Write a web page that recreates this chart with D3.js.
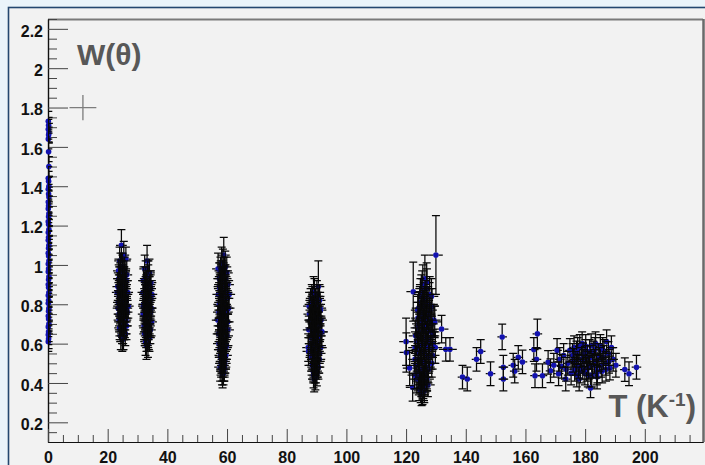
<!DOCTYPE html>
<html>
<head>
<meta charset="utf-8">
<script src="https://cdn.jsdelivr.net/npm/d3@7"></script>
<style>
  html, body { margin: 0; padding: 0; background: #eaf4fa; }
  svg { display: block; }
</style>
</head>
<body>
<svg id="chart" width="705" height="465"></svg>
<script>
// ---- axis ticks ----
const xMajorTicks = [0, 20, 40, 60, 80, 100, 120, 140, 160, 180, 200];
const xMinorTicks = [5, 10, 15, 25, 30, 35, 45, 50, 55, 65, 70, 75, 85, 90, 95, 105, 110, 115,
  125, 130, 135, 145, 150, 155, 165, 170, 175, 185, 190, 195, 205, 210, 215];
const yMajorTicks = [0.2, 0.4, 0.6, 0.8, 1.0, 1.2, 1.4, 1.6, 1.8, 2.0, 2.2];
const yMinorTicks = [0.15, 0.25, 0.3, 0.35, 0.45, 0.5, 0.55, 0.65, 0.7, 0.75, 0.85, 0.9, 0.95,
  1.05, 1.1, 1.15, 1.25, 1.3, 1.35, 1.45, 1.5, 1.55, 1.65, 1.7, 1.75, 1.85, 1.9, 1.95,
  2.05, 2.1, 2.15, 2.25];

// ---- measurements: [T, W, dW] ; horizontal error per run in runDT ----
const run0 = [[0.1,1.73,0.05],[0.2,1.71,0.04],[0.1,1.69,0.05],[0.3,1.67,0.05],[0.2,1.66,0.04],[0.1,1.64,0.05],
  [0.2,1.575,0.05],[0.3,1.50,0.05],[0.1,1.44,0.06],[0.2,1.425,0.05],[0.3,1.40,0.05],[0.1,1.385,0.06],
  [0.2,1.36,0.05],[0.3,1.345,0.05],[0.1,1.32,0.06],[0.2,1.30,0.05],[0.1,1.285,0.05],[0.3,1.26,0.06],
  [0.2,1.245,0.05],[0.1,1.22,0.05],[0.2,1.205,0.06],[0.3,1.18,0.05],[0.1,1.165,0.05],[0.2,1.14,0.06],
  [0.1,1.125,0.05],[0.3,1.10,0.05],[0.2,1.085,0.06],[0.1,1.06,0.05],[0.2,1.045,0.05],[0.3,1.02,0.06],
  [0.1,1.005,0.05],[0.2,0.98,0.05],[0.1,0.965,0.06],[0.3,0.94,0.05],[0.2,0.925,0.05],[0.1,0.90,0.06],
  [0.2,0.885,0.05],[0.3,0.86,0.05],[0.1,0.845,0.06],[0.2,0.82,0.05],[0.1,0.805,0.05],[0.3,0.78,0.06],
  [0.2,0.765,0.05],[0.1,0.74,0.05],[0.2,0.725,0.06],[0.3,0.70,0.05],[0.1,0.685,0.05],[0.2,0.66,0.05],
  [0.1,0.645,0.05],[0.2,0.625,0.05],[0.1,0.61,0.05]];

const run25 = [[24.6,1.10,0.08],[25.4,1.05,0.07],[24.0,1.02,0.07],[26.1,1.03,0.06],[25.0,0.99,0.07],
  [23.6,0.97,0.06],[26.4,0.95,0.07],[24.8,0.96,0.06],[25.6,0.93,0.06],[24.2,0.92,0.07],[26.0,0.90,0.06],
  [23.4,0.89,0.07],[25.2,0.88,0.06],[24.5,0.87,0.07],[26.7,0.86,0.06],[25.8,0.85,0.07],[23.9,0.84,0.06],
  [24.9,0.83,0.06],[26.2,0.82,0.07],[25.3,0.81,0.06],[24.1,0.80,0.07],[25.7,0.79,0.06],[23.5,0.78,0.07],
  [24.7,0.77,0.06],[26.5,0.76,0.07],[25.1,0.75,0.06],[24.3,0.74,0.07],[25.9,0.73,0.06],[23.8,0.72,0.06],
  [25.5,0.71,0.07],[24.6,0.70,0.06],[26.3,0.69,0.07],[24.0,0.68,0.06],[25.2,0.67,0.07],[24.8,0.66,0.06],
  [25.9,0.65,0.06],[24.4,0.64,0.07],[25.3,0.63,0.06],[24.9,0.62,0.06],[23.2,0.86,0.07],[26.9,0.79,0.06],
  [25.0,0.91,0.07],[24.5,0.83,0.06],[25.6,0.76,0.07],[24.2,0.95,0.06],
  [24.3,0.99,0.07],[25.7,0.97,0.07],[24.9,0.94,0.06],[23.7,0.93,0.07],[26.2,0.92,0.06],[25.1,0.90,0.07],
  [24.4,0.89,0.06],[25.8,0.88,0.07],[23.9,0.87,0.06],[26.0,0.84,0.07],[24.6,0.82,0.06],[25.4,0.80,0.07],
  [23.6,0.81,0.06],[26.4,0.78,0.07],[24.8,0.77,0.06],[25.2,0.74,0.07],[23.8,0.75,0.06],[26.1,0.72,0.07],
  [24.5,0.71,0.06],[25.6,0.69,0.07],[24.2,0.67,0.06],[25.0,0.64,0.07],[24.7,0.85,0.07],[25.3,0.89,0.06]];

const run33 = [[33.2,1.02,0.08],[32.4,0.98,0.07],[34.0,0.96,0.07],[33.6,0.94,0.06],[32.0,0.92,0.07],
  [34.5,0.91,0.06],[33.0,0.90,0.07],[32.7,0.88,0.06],[33.9,0.87,0.07],[31.8,0.86,0.06],[34.8,0.85,0.07],
  [33.3,0.84,0.06],[32.5,0.83,0.07],[34.2,0.82,0.06],[33.7,0.81,0.07],[32.1,0.80,0.06],[33.0,0.79,0.07],
  [34.6,0.78,0.06],[32.8,0.77,0.07],[33.5,0.76,0.06],[31.9,0.75,0.07],[34.1,0.74,0.06],[33.2,0.73,0.07],
  [32.4,0.72,0.06],[34.7,0.71,0.07],[33.8,0.70,0.06],[32.2,0.69,0.07],[33.1,0.68,0.06],[34.3,0.67,0.07],
  [32.6,0.66,0.06],[33.6,0.65,0.07],[32.9,0.64,0.06],[34.0,0.63,0.07],[33.3,0.62,0.06],[32.7,0.61,0.07],
  [33.5,0.60,0.07],[33.0,0.59,0.07],[32.3,0.78,0.06],[34.4,0.88,0.07],[33.9,0.73,0.06],
  [33.4,0.95,0.07],[32.6,0.93,0.06],[34.2,0.90,0.07],[33.0,0.87,0.06],[32.3,0.85,0.07],[34.5,0.83,0.06],
  [33.6,0.82,0.07],[32.0,0.79,0.06],[33.2,0.77,0.07],[34.3,0.76,0.06],[32.5,0.74,0.07],[33.7,0.72,0.06],
  [32.8,0.70,0.07],[34.0,0.69,0.06],[33.1,0.67,0.07],[32.4,0.65,0.06],[33.8,0.64,0.07],[33.0,0.62,0.06],
  [32.9,0.86,0.07],[33.5,0.80,0.06]];

const run59 = [[58.9,1.05,0.09],[58.2,1.01,0.08],[59.4,0.99,0.08],[57.8,0.97,0.07],[59.9,0.96,0.08],
  [58.5,0.95,0.07],[57.4,0.93,0.08],[59.2,0.92,0.07],[58.0,0.91,0.08],[60.3,0.90,0.07],[58.7,0.89,0.08],
  [57.6,0.88,0.07],[59.6,0.87,0.08],[58.3,0.86,0.07],[57.1,0.85,0.08],[59.0,0.84,0.07],[60.1,0.83,0.08],
  [58.4,0.82,0.07],[57.7,0.81,0.08],[59.3,0.80,0.07],[58.1,0.79,0.08],[60.5,0.78,0.07],[58.8,0.77,0.08],
  [57.3,0.76,0.07],[59.7,0.75,0.08],[58.2,0.74,0.07],[57.9,0.73,0.08],[59.1,0.72,0.07],[60.2,0.71,0.08],
  [58.6,0.70,0.07],[57.5,0.69,0.08],[59.5,0.68,0.07],[58.0,0.67,0.08],[58.9,0.66,0.07],[57.2,0.65,0.08],
  [60.0,0.64,0.07],[58.4,0.63,0.08],[59.3,0.62,0.07],[57.8,0.61,0.08],[58.7,0.60,0.07],[59.8,0.59,0.07],
  [58.1,0.58,0.07],[57.6,0.57,0.07],[59.0,0.56,0.07],[58.5,0.55,0.07],[59.6,0.54,0.07],[57.9,0.53,0.07],
  [58.8,0.52,0.07],[58.2,0.51,0.06],[59.2,0.50,0.07],[58.6,0.49,0.06],[57.7,0.48,0.07],[59.0,0.47,0.06],
  [58.3,0.46,0.07],[58.8,0.45,0.06],[58.5,0.44,0.065],[56.9,0.72,0.07],[60.7,0.85,0.07],[57.0,0.98,0.08],
  [58.6,1.00,0.08],[59.1,0.97,0.07],[57.9,0.94,0.08],[59.5,0.93,0.07],[58.3,0.90,0.08],[57.5,0.89,0.07],
  [59.8,0.86,0.08],[58.0,0.84,0.07],[59.2,0.83,0.08],[57.4,0.80,0.07],[58.7,0.78,0.08],[59.9,0.76,0.07],
  [58.1,0.75,0.08],[57.6,0.72,0.07],[59.4,0.71,0.08],[58.4,0.69,0.07],[60.3,0.67,0.08],[57.8,0.66,0.07],
  [59.0,0.64,0.08],[58.2,0.62,0.07],[57.3,0.60,0.07],[59.6,0.58,0.07],[58.6,0.56,0.07],[57.8,0.54,0.07],
  [59.3,0.52,0.07],[58.0,0.50,0.07],[59.1,0.48,0.07],[58.4,0.47,0.06]];

const run89 = [[90.6,0.89,0.13],[89.0,0.86,0.08],[90.1,0.84,0.08],[88.4,0.83,0.07],[91.0,0.82,0.08],
  [89.6,0.81,0.07],[88.0,0.80,0.08],[90.4,0.79,0.07],[89.2,0.78,0.08],[91.3,0.77,0.07],[88.7,0.76,0.08],
  [87.6,0.75,0.07],[90.0,0.74,0.08],[89.4,0.73,0.07],[91.5,0.72,0.08],[88.2,0.71,0.07],[89.8,0.70,0.08],
  [90.7,0.69,0.07],[88.9,0.68,0.08],[87.4,0.67,0.07],[90.2,0.66,0.08],[89.1,0.65,0.07],[91.1,0.64,0.08],
  [88.5,0.63,0.07],[89.7,0.62,0.08],[90.5,0.61,0.07],[88.1,0.60,0.08],[89.3,0.59,0.07],[91.4,0.58,0.07],
  [88.8,0.57,0.07],[87.3,0.56,0.07],[90.3,0.55,0.07],[89.5,0.54,0.07],[88.3,0.53,0.07],[90.9,0.52,0.07],
  [89.0,0.51,0.07],[89.9,0.50,0.06],[88.6,0.49,0.07],[90.6,0.48,0.06],[89.4,0.47,0.07],[88.9,0.46,0.06],
  [90.1,0.45,0.065],[89.6,0.43,0.065],[89.2,0.42,0.065],[87.2,0.58,0.07],[91.8,0.66,0.07],[87.5,0.79,0.07],
  [89.3,0.85,0.08],[90.5,0.83,0.07],[88.6,0.81,0.08],[89.9,0.79,0.07],[91.2,0.78,0.08],[88.3,0.77,0.07],
  [89.5,0.75,0.08],[90.8,0.73,0.07],[87.9,0.72,0.08],[89.0,0.71,0.07],[90.3,0.69,0.08],[88.5,0.67,0.07],
  [91.6,0.66,0.08],[89.7,0.64,0.07],[88.0,0.63,0.08],[90.6,0.62,0.07],[89.2,0.60,0.08],[88.7,0.58,0.07],
  [90.0,0.57,0.07],[91.0,0.55,0.07],[88.4,0.54,0.07],[89.6,0.52,0.07],[90.4,0.50,0.07],[88.9,0.48,0.07],
  [89.8,0.46,0.06],[89.0,0.44,0.065]];

const run126 = [[120.0,0.61,0.12],[120.1,0.555,0.10],[121.2,0.476,0.09],[122.2,0.378,0.07],[122.4,0.864,0.15],
  [130.0,1.05,0.20],[126.3,0.93,0.12],[125.6,0.90,0.10],[127.0,0.88,0.10],[128.5,0.84,0.09],[125.1,0.86,0.09],
  [126.6,0.83,0.09],[124.6,0.81,0.08],[127.4,0.80,0.09],[125.9,0.79,0.08],[124.2,0.78,0.08],[128.0,0.77,0.08],
  [126.1,0.76,0.08],[125.3,0.75,0.08],[127.7,0.74,0.08],[124.0,0.73,0.08],[126.8,0.72,0.08],[125.0,0.71,0.08],
  [128.3,0.70,0.08],[126.4,0.69,0.07],[123.8,0.68,0.08],[127.2,0.67,0.07],[125.5,0.66,0.08],[124.4,0.65,0.07],
  [128.8,0.64,0.08],[126.0,0.63,0.07],[127.5,0.62,0.08],[123.5,0.61,0.07],[125.8,0.60,0.08],[124.8,0.59,0.07],
  [126.9,0.58,0.08],[128.1,0.57,0.07],[125.2,0.56,0.07],[123.9,0.55,0.07],[126.5,0.54,0.07],[127.8,0.53,0.07],
  [124.5,0.52,0.07],[125.7,0.51,0.07],[126.2,0.50,0.07],[123.3,0.49,0.07],[127.3,0.48,0.07],[124.9,0.47,0.07],
  [125.4,0.46,0.07],[126.7,0.45,0.06],[124.1,0.44,0.07],[125.9,0.43,0.06],[127.0,0.42,0.06],[124.7,0.41,0.06],
  [126.3,0.40,0.06],[125.1,0.39,0.06],[125.8,0.38,0.06],[124.4,0.37,0.06],[126.1,0.36,0.06],[125.5,0.35,0.06],
  [125.2,0.34,0.055],[123.0,0.58,0.08],[129.0,0.60,0.07],[128.6,0.50,0.07],[122.8,0.44,0.07],[129.3,0.72,0.08],
  [126.9,0.91,0.10],[125.4,0.88,0.09],[127.9,0.85,0.09],[124.8,0.84,0.09],[126.2,0.81,0.08],[128.7,0.79,0.09],
  [123.9,0.77,0.08],[127.1,0.75,0.08],[125.6,0.73,0.08],[129.6,0.71,0.08],[124.3,0.70,0.08],[126.6,0.68,0.08],
  [128.4,0.66,0.08],[123.2,0.64,0.08],[125.2,0.62,0.08],[127.6,0.60,0.08],[129.8,0.58,0.08],[124.1,0.57,0.07],
  [126.3,0.55,0.07],[128.9,0.54,0.07],[123.0,0.52,0.07],[125.9,0.50,0.07],[127.5,0.47,0.07],[124.5,0.46,0.07],
  [126.8,0.43,0.07],[123.6,0.42,0.07],[125.3,0.40,0.06],[127.3,0.39,0.06],[124.9,0.36,0.06],[126.0,0.37,0.06],
  [131.9,0.674,0.07],[133.3,0.571,0.06],[134.7,0.571,0.06]];

const runHigh = [[138.9,0.43,0.06],[140.5,0.42,0.06],[143.6,0.52,0.06],[145.0,0.56,0.06],[148.3,0.447,0.06],
  [152.2,0.634,0.065],[152.6,0.48,0.06],[152.6,0.42,0.06],[155.9,0.49,0.06],[156.4,0.46,0.06],[157.6,0.53,0.06],
  [159.0,0.507,0.06],[162.8,0.57,0.06],[164.0,0.65,0.075],[163.7,0.52,0.06],[163.2,0.437,0.06],[165.7,0.437,0.06],
  [167.6,0.505,0.06],[168.4,0.462,0.06],[170.6,0.566,0.06],[171.5,0.52,0.06],[171.1,0.447,0.06],[172.1,0.485,0.06],
  [173.5,0.42,0.06],[174.9,0.566,0.06],[176.0,0.515,0.06],[177.1,0.553,0.06],[177.7,0.485,0.06],[178.2,0.586,0.06],
  [179.3,0.544,0.06],[180.2,0.586,0.06],[181.0,0.50,0.06],[181.8,0.375,0.05],[180.5,0.47,0.06],[182.7,0.553,0.06],
  [183.8,0.485,0.06],[185.1,0.586,0.06],[186.3,0.56,0.06],[187.2,0.61,0.06],[188.3,0.476,0.06],[193.3,0.468,0.06],
  [194.7,0.447,0.06],[197.2,0.48,0.06],[176.5,0.47,0.06],[178.8,0.52,0.06],[179.9,0.45,0.06],[181.5,0.56,0.06],
  [182.2,0.44,0.06],[183.1,0.51,0.06],[184.4,0.54,0.06],[185.7,0.46,0.06],[186.9,0.50,0.06],[179.0,0.60,0.06],
  [175.3,0.45,0.06],[174.2,0.50,0.06],[180.8,0.53,0.06],[184.0,0.43,0.06],[189.4,0.52,0.06],[190.3,0.49,0.06],
  [187.8,0.55,0.06],[172.8,0.54,0.06],[169.5,0.49,0.06],[183.5,0.60,0.06],[178.0,0.42,0.06],[181.2,0.48,0.06],
  [175.8,0.54,0.06],[176.9,0.50,0.06],[177.5,0.57,0.06],[178.4,0.46,0.06],[179.6,0.51,0.06],[180.1,0.56,0.06],
  [180.9,0.44,0.06],[181.7,0.53,0.06],[182.5,0.49,0.06],[183.3,0.57,0.06],[184.1,0.46,0.06],[184.8,0.52,0.06],
  [185.4,0.49,0.06],[186.2,0.53,0.06],[187.0,0.47,0.06],[188.0,0.51,0.06],[188.8,0.58,0.06],[177.2,0.44,0.06],
  [179.2,0.48,0.06],[182.0,0.59,0.06],[183.9,0.45,0.06],[185.9,0.57,0.06],[176.3,0.58,0.06],[173.6,0.47,0.06]];

const runs = [run0, run25, run33, run59, run89, run126, runHigh];
const runDT = [0.4, 1.8, 1.8, 2.0, 2.0, 2.3, 1.6];

// single reference point drawn as a bare cross: [T, W, dT, dW]
const refPoint = [11.7, 1.80, 4.5, 0.064];

// ---- layout ----
const svg = d3.select("#chart");
const frameL = 48, frameR = 703, frameT = 19, frameB = 442;
const x = d3.scaleLinear().domain([0, 219.5]).range([frameL, frameR]);
const y = d3.scaleLinear().domain([0.1, 2.25]).range([frameB, frameT]);

// pad
svg.append("rect").attr("x", 8.5).attr("y", 7.5).attr("width", 720).attr("height", 480)
  .attr("fill", "#f2f2f2").attr("stroke", "#24476f").attr("stroke-width", 1.6);

svg.append("defs").append("clipPath").attr("id", "frameClip")
  .append("rect").attr("x", frameL).attr("y", frameT).attr("width", frameR - frameL).attr("height", frameB - frameT);

// frame top / right edges
svg.append("line").attr("x1", frameL).attr("x2", frameR).attr("y1", frameT + 0.5).attr("y2", frameT + 0.5)
  .attr("stroke", "#7a7a7a").attr("stroke-width", 2);
svg.append("line").attr("x1", frameR + 0.5).attr("x2", frameR + 0.5).attr("y1", frameT).attr("y2", frameB)
  .attr("stroke", "#6a6a6a").attr("stroke-width", 2.5);

const labelFont = "'Liberation Sans', Arial, Helvetica, sans-serif";

// y axis
const yMinorAxis = d3.axisLeft(y).tickValues(yMinorTicks).tickSize(-9).tickSizeOuter(0).tickFormat("");
const yMajorAxis = d3.axisLeft(y).tickValues(yMajorTicks).tickSize(-20).tickSizeOuter(0).tickPadding(5)
  .tickFormat(d => d3.format("~g")(+d.toFixed(2)));
const gyMinor = svg.append("g").attr("transform", `translate(${frameL},0)`).call(yMinorAxis);
const gy = svg.append("g").attr("transform", `translate(${frameL},0)`).call(yMajorAxis);

// x axis
const xMinorAxis = d3.axisBottom(x).tickValues(xMinorTicks).tickSize(-7).tickSizeOuter(0).tickFormat("");
const xMajorAxis = d3.axisBottom(x).tickValues(xMajorTicks).tickSize(-13).tickSizeOuter(0).tickPadding(10)
  .tickFormat(d3.format("d"));
const gxMinor = svg.append("g").attr("transform", `translate(0,${frameB})`).call(xMinorAxis);
const gx = svg.append("g").attr("transform", `translate(0,${frameB})`).call(xMajorAxis);

[gyMinor, gy, gxMinor, gx].forEach(g => {
  g.select(".domain").attr("stroke", "#111").attr("stroke-width", 1.2);
  g.selectAll(".tick line").attr("stroke", "#444").attr("stroke-width", 1);
});
gy.selectAll("text").attr("font-family", labelFont).attr("font-weight", "bold")
  .attr("font-size", 16).attr("fill", "#111").attr("dy", "0.45em");
gx.selectAll("text").attr("font-family", labelFont).attr("font-weight", "bold")
  .attr("font-size", 16).attr("fill", "#111");

// axis titles
svg.append("text").attr("x", 77).attr("y", 65)
  .attr("font-family", labelFont).attr("font-weight", "bold").attr("font-size", 30)
  .attr("fill", "#585858").text("W(θ)");
const tt = svg.append("text").attr("x", 696).attr("y", 417).attr("text-anchor", "end")
  .attr("font-family", labelFont).attr("font-weight", "bold").attr("font-size", 31).attr("fill", "#585858");
tt.append("tspan").text("T (K");
tt.append("tspan").attr("dy", -11).attr("font-size", 19).text("-1");
tt.append("tspan").attr("dy", 11).text(")");

// reference cross
svg.append("path")
  .attr("d", `M${x(refPoint[0] - refPoint[2])},${y(refPoint[1])}H${x(refPoint[0] + refPoint[2])}` +
             `M${x(refPoint[0])},${y(refPoint[1] + refPoint[3])}V${y(refPoint[1] - refPoint[3])}`)
  .attr("stroke", "#7d7d7d").attr("stroke-width", 1.3).attr("fill", "none");

// measurements: markers underneath, error bars (with a gap around each marker) above
const cap = 4;
const markerR = 2.8;
const barColor = "#080808";
const markerColor = "#1212b0";
const dataLayer = svg.append("g");

function errorBar(g, t, w, dt, dw) {
  const cx = x(t), cy = y(w), yh = y(w + dw), yl = y(w - dw);
  const xl = x(t - dt), xh = x(t + dt);
  let d = "";
  if (xl < cx - markerR) d += `M${xl},${cy}H${cx - markerR}M${cx + markerR},${cy}H${xh}`;
  d += `M${cx},${yh}V${cy - markerR}M${cx},${cy + markerR}V${yl}`;
  d += `M${cx - cap},${yh}H${cx + cap}M${cx - cap},${yl}H${cx + cap}`;
  g.append("path")
    .attr("clip-path", "url(#frameClip)")
    .attr("d", d)
    .attr("stroke", barColor).attr("stroke-width", 1.25).attr("fill", "none");
}
function marker(g, t, w) {
  g.append("circle").attr("cx", x(t)).attr("cy", y(w)).attr("r", markerR).attr("fill", markerColor);
}

runs.forEach((pts, i) => {
  const dt = runDT[i];
  const g = dataLayer.append("g");
  pts.forEach(([t, w]) => marker(g, t, w));
  pts.forEach(([t, w, dw]) => errorBar(g, t, w, dt, dw));
});
</script>
</body>
</html>
